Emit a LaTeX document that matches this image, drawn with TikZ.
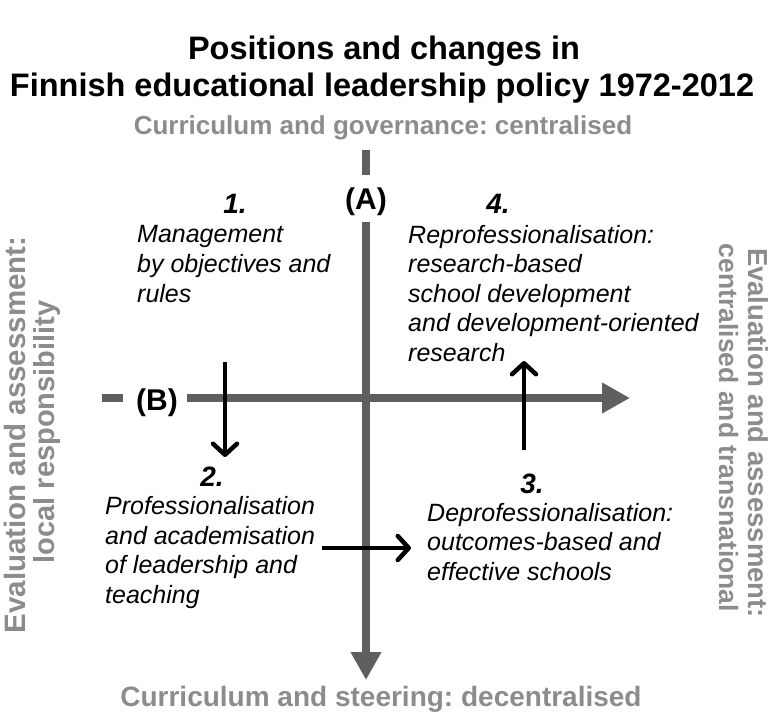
\documentclass[tikz,border=0pt]{standalone}
\usepackage{fontspec}
\setmainfont{Liberation Sans}
\usetikzlibrary{arrows.meta}
\definecolor{axisgray}{HTML}{5F5F5F}
\definecolor{labelgray}{HTML}{8C8C8C}
\frenchspacing
\begin{document}
\begin{tikzpicture}[x=1pt,y=-1pt,
  axis/.style={draw=axisgray, line width=8pt},
  axishead/.style={-{Triangle[length=28pt,width=29pt]}},
  move/.style={draw=black, line width=4.5pt, -{Straight Barb[length=11pt,width=24pt,line width=4.5pt,round]}},
  title/.style={font=\fontsize{32.5}{37}\selectfont\bfseries, inner sep=0, anchor=base},
  pole/.style={text=labelgray, inner sep=0, anchor=base},
  sidepole/.style={text=labelgray, inner sep=0, anchor=base},
  axislabel/.style={font=\fontsize{30}{34}\selectfont\bfseries, inner sep=0, anchor=base},
  stagenum/.style={font=\fontsize{28}{32}\selectfont\bfseries\itshape, inner sep=0, anchor=base},
  % multi-line blocks are anchored on the baseline of their last line
  stagetext/.style={font=\fontsize{25}{29.5}\selectfont\itshape, align=left, inner sep=0, anchor=base west},
]
\useasboundingbox (0,0) rectangle (769,714);

% title
\node[title] (title1) at (384,60) {Positions and changes in};
\node[title] (title2) at (382,97) {Finnish educational leadership policy 1972-2012};

% poles of the two axes
\node[pole, font=\fontsize{26}{30}\selectfont\bfseries] (top) at (383,135) {Curriculum and governance: centralised};
\node[pole, font=\fontsize{28}{32}\selectfont\bfseries] (bottom) at (381,706) {Curriculum and steering: decentralised};
\node[sidepole, font=\fontsize{29.5}{32}\selectfont\bfseries, rotate=90] (left1) at (25,435) {Evaluation and assessment:};
\node[sidepole, font=\fontsize{29}{32}\selectfont\bfseries, rotate=90] (left2) at (54,432) {local responsibility};
\node[sidepole, font=\fontsize{27.5}{30}\selectfont\bfseries, rotate=-90] (right1) at (748,433) {Evaluation and assessment:};
\node[sidepole, font=\fontsize{26.5}{30}\selectfont\bfseries, rotate=-90] (right2) at (719,428) {centralised and transnational};

% axes
\coordinate (vtop) at (366,150);
\coordinate (vgap) at (366,175);
\coordinate (vres) at (366,222);
\coordinate (vend) at (366,680);
\coordinate (hleft) at (102,398);
\coordinate (hgap) at (123,398);
\coordinate (hres) at (187,398);
\coordinate (hend) at (630,398);
\draw[axis] (vtop) -- (vgap);
\draw[axis, axishead] (vres) -- (vend);
\draw[axis] (hleft) -- (hgap);
\draw[axis, axishead] (hres) -- (hend);
\node[axislabel] (A) at (366,210) {(A)};
\node[axislabel] (B) at (157,410) {(B)};

% stages
\node[stagenum] (n1) at (235,214) {1.};
\node[stagetext] (s1) at (137,302) {Management\\by objectives and\\rules};
\node[stagenum] (n2) at (212,486) {2.};
\node[stagetext] (s2) at (105,603) {Professionalisation\\and academisation\\of leadership and\\teaching};
\node[stagenum] (n3) at (532,493) {3.};
\node[stagetext] (s3) at (427,580) {Deprofessionalisation:\\outcomes-based and\\effective schools};
\node[stagenum] (n4) at (498,214) {4.};
\node[stagetext] (s4) at (408,361) {Reprofessionalisation:\\research-based\\school development\\and development-oriented\\research};

% movements between stages
\coordinate (m12a) at (225,362);
\coordinate (m12b) at (225,457);
\coordinate (m23a) at (322,548);
\coordinate (m23b) at (411,548);
\coordinate (m34a) at (524,450);
\coordinate (m34b) at (524,361);
\draw[move] (m12a) -- (m12b);
\draw[move] (m23a) -- (m23b);
\draw[move] (m34a) -- (m34b);
\end{tikzpicture}
\end{document}
